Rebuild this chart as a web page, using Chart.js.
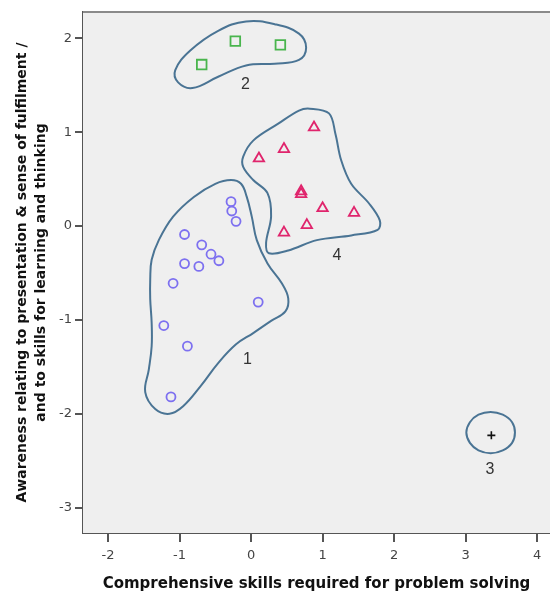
<!DOCTYPE html>
<html>
<head>
<meta charset="utf-8">
<script src="https://cdn.jsdelivr.net/npm/chart.js@4"></script>
<style>
  html, body { margin: 0; padding: 0; background: #fff; }
  #wrap { width: 550px; height: 596px; }
</style>
</head>
<body>
<div id="wrap"><canvas id="clusterChart" width="550" height="596"></canvas></div>
<script>
// --- data ---
const xTicks = [-2, -1, 0, 1, 2, 3, 4];
const yTicks = [-3, -2, -1, 0, 1, 2];

// cluster 1 (circles)
const c1X = [-0.28, -0.27, -0.21, -0.93, -0.69, -0.56, -0.45, -0.93, -0.73, -1.09, 0.10, -1.22, -0.89, -1.12];
const c1Y = [0.26, 0.16, 0.05, -0.09, -0.20, -0.30, -0.37, -0.40, -0.43, -0.61, -0.81, -1.06, -1.28, -1.82];
// cluster 2 (squares)
const c2X = [-0.69, -0.22, 0.41];
const c2Y = [1.72, 1.97, 1.93];
// cluster 3 (plus)
const c3X = [3.36];
const c3Y = [-2.23];
// cluster 4 (triangles)
const c4X = [0.88, 0.46, 0.11, 0.70, 0.70, 1.00, 1.44, 0.78, 0.46];
const c4Y = [1.05, 0.82, 0.72, 0.37, 0.34, 0.19, 0.14, 0.01, -0.07];

// hull outlines (vertices in data units)
const hull1X = [-0.28, -0.14, -0.06, 0.01, 0.08, 0.23, 0.43, 0.52, 0.48, 0.28, 0.03, -0.21, -0.46, -0.70, -0.95, -1.14, -1.34, -1.48, -1.43, -1.39, -1.39, -1.41, -1.41, -1.39, -1.29, -1.09, -0.80, -0.50];
const hull1Y = [0.49, 0.45, 0.31, 0.10, -0.15, -0.40, -0.61, -0.77, -0.91, -1.01, -1.14, -1.26, -1.46, -1.70, -1.92, -2.00, -1.95, -1.77, -1.53, -1.28, -1.03, -0.78, -0.57, -0.36, -0.15, 0.10, 0.31, 0.45];
const hull2X = [-1.06, -0.85, -0.46, -0.07, 0.33, 0.67, 0.77, 0.67, 0.33, -0.07, -0.46, -0.82, -1.02];
const hull2Y = [1.66, 1.87, 2.08, 2.18, 2.15, 2.05, 1.90, 1.77, 1.73, 1.71, 1.59, 1.47, 1.53];
const hull3X = [3.69, 3.65, 3.52, 3.35, 3.18, 3.06, 3.01, 3.06, 3.18, 3.35, 3.52, 3.65];
const hull3Y = [-2.20, -2.09, -2.01, -1.98, -2.01, -2.09, -2.20, -2.31, -2.39, -2.42, -2.39, -2.31];
const hull4X = [0.82, 1.09, 1.18, 1.26, 1.40, 1.65, 1.80, 1.77, 1.40, 0.92, 0.52, 0.25, 0.21, 0.28, 0.23, 0.03, -0.11, -0.11, 0.03, 0.38, 0.67];
const hull4Y = [1.25, 1.20, 0.98, 0.70, 0.45, 0.24, 0.06, -0.04, -0.10, -0.15, -0.26, -0.29, -0.18, 0.10, 0.35, 0.49, 0.63, 0.74, 0.91, 1.09, 1.23];

// cluster number labels
const labelText = ['1', '2', '3', '4'];
const labelX = [-0.05, -0.08, 3.34, 1.20];
const labelY = [-1.42, 1.51, -2.59, -0.32];

const xTitle = 'Comprehensive skills required for problem solving';
const yTitle = ['Awareness relating to presentation & sense of fulfilment /', 'and to skills for learning and thinking'];

const toPoints = (xs, ys) => xs.map((x, i) => ({ x, y: ys[i] }));

// closed smooth outline: wrap the ends so every drawn segment has both neighbours
const closedLoop = (xs, ys) => {
  const pts = toPoints(xs, ys);
  return [pts[pts.length - 1], ...pts, pts[0], pts[1]];
};

const HULL_COLOR = '#4a7494';

const hullDataset = (xs, ys, tension) => {
  const data = closedLoop(xs, ys);
  return {
    data,
    showLine: true,
    tension,
    borderColor: HULL_COLOR,
    borderWidth: 2,
    pointRadius: 0,
    pointHoverRadius: 0,
    segment: {
      // hide the two helper segments at the wrapped ends
      borderColor: ctx => (ctx.p0DataIndex === 0 || ctx.p1DataIndex === data.length - 1) ? 'rgba(0,0,0,0)' : undefined
    }
  };
};

// plot background + top frame line
const plotFrame = {
  id: 'plotFrame',
  beforeDatasetsDraw(chart) {
    const { ctx, chartArea: a } = chart;
    ctx.save();
    ctx.fillStyle = '#efefef';
    ctx.fillRect(a.left, a.top, a.right - a.left, a.bottom - a.top);
    ctx.strokeStyle = '#8a8a8a';
    ctx.lineWidth = 2;
    ctx.beginPath();
    ctx.moveTo(a.left, a.top);
    ctx.lineTo(a.right, a.top);
    ctx.stroke();
    ctx.restore();
  }
};

// cluster numbers placed through the scales
const clusterLabels = {
  id: 'clusterLabels',
  afterDatasetsDraw(chart) {
    const { ctx, scales: { x, y } } = chart;
    ctx.save();
    ctx.font = '16px "Liberation Sans", Arial, sans-serif';
    ctx.fillStyle = '#333';
    ctx.textAlign = 'center';
    ctx.textBaseline = 'middle';
    labelText.forEach((t, i) => {
      ctx.fillText(t, x.getPixelForValue(labelX[i]), y.getPixelForValue(labelY[i]));
    });
    ctx.restore();
  }
};

const tickFont = { family: '"DejaVu Sans", sans-serif', size: 13 };

new Chart(document.getElementById('clusterChart'), {
  type: 'scatter',
  data: {
    datasets: [
      hullDataset(hull1X, hull1Y, 0.4),
      hullDataset(hull2X, hull2Y, 0.4),
      hullDataset(hull3X, hull3Y, 0.35),
      hullDataset(hull4X, hull4Y, 0.35),
      {
        data: toPoints(c1X, c1Y),
        pointStyle: 'circle',
        pointRadius: 4.5,
        borderColor: '#7d70f0',
        backgroundColor: 'rgba(0,0,0,0)',
        pointBorderWidth: 1.8
      },
      {
        data: toPoints(c2X, c2Y),
        pointStyle: 'rect',
        pointRadius: 6.8,
        borderColor: '#49b54d',
        backgroundColor: 'rgba(0,0,0,0)',
        pointBorderWidth: 1.8
      },
      {
        data: toPoints(c3X, c3Y),
        pointStyle: 'cross',
        pointRadius: 4,
        borderColor: '#111',
        backgroundColor: '#111',
        pointBorderWidth: 1.6
      },
      {
        data: toPoints(c4X, c4Y),
        pointStyle: 'triangle',
        pointRadius: 6,
        borderColor: '#e0246c',
        backgroundColor: 'rgba(0,0,0,0)',
        pointBorderWidth: 1.8
      }
    ]
  },
  options: {
    responsive: false,
    animation: false,
    layout: { autoPadding: false, padding: { top: 12, right: 0, bottom: 0, left: 0 } },
    plugins: {
      legend: { display: false },
      tooltip: { enabled: false }
    },
    scales: {
      x: {
        type: 'linear',
        min: -2.35,
        max: 4.18,
        afterBuildTicks: scale => { scale.ticks = xTicks.map(v => ({ value: v })); },
        afterFit: scale => {
          scale.height = 63;
          scale.paddingLeft = 0;
          scale.paddingRight = 0;
        },
        grid: { drawOnChartArea: false, drawTicks: true, tickLength: 9, color: '#555', lineWidth: 2 },
        border: { color: '#555', width: 2 },
        ticks: { color: '#444', font: tickFont, padding: 6, maxRotation: 0 },
        title: {
          display: true,
          text: xTitle,
          color: '#111',
          font: { family: '"DejaVu Sans", sans-serif', size: 15, weight: 'bold' },
          padding: { top: 0, bottom: 3 }
        }
      },
      y: {
        type: 'linear',
        min: -3.27,
        max: 2.28,
        afterBuildTicks: scale => { scale.ticks = yTicks.map(v => ({ value: v })); },
        afterFit: scale => {
          scale.width = 83;
          scale.paddingTop = 0;
          scale.paddingBottom = 0;
        },
        grid: { drawOnChartArea: false, drawTicks: true, tickLength: 8, color: '#555', lineWidth: 2 },
        border: { color: '#555', width: 2 },
        ticks: { color: '#444', font: tickFont, padding: 3 },
        title: {
          display: true,
          text: yTitle,
          color: '#111',
          font: { family: '"DejaVu Sans", sans-serif', size: 14, weight: 'bold', lineHeight: '19px' },
          padding: { top: 13, bottom: 0 }
        }
      }
    }
  },
  plugins: [plotFrame, clusterLabels]
});
</script>
</body>
</html>
